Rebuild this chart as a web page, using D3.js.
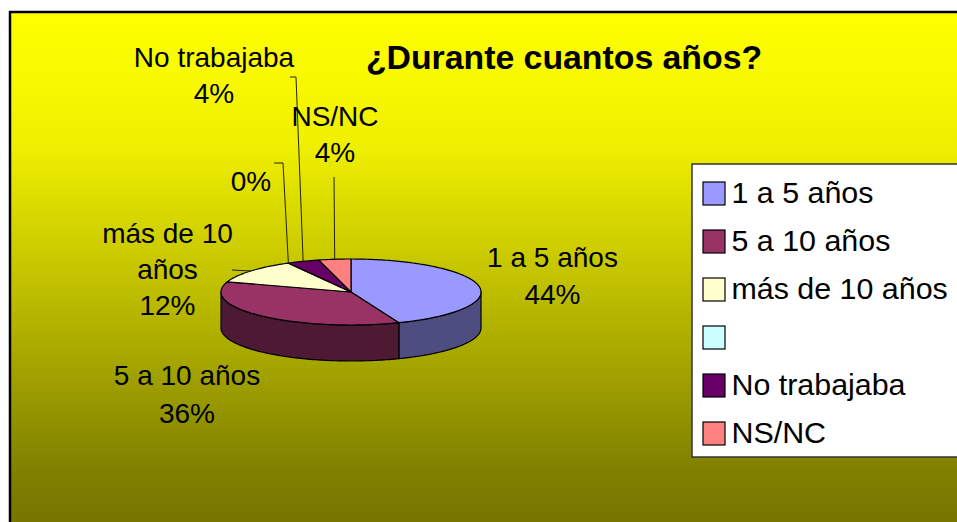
<!DOCTYPE html>
<html>
<head>
<meta charset="utf-8">
<script src="https://cdn.jsdelivr.net/npm/d3@7"></script>
<style>
  html, body { margin: 0; padding: 0; background: #fff; }
  svg { display: block; }
  text { font-family: "Liberation Sans", Arial, sans-serif; fill: #000; }
</style>
</head>
<body>
<div id="chart"></div>
<script>
const title      = '¿Durante cuantos años?';
const categories = ['1 a 5 años', '5 a 10 años', 'más de 10 años', '', 'No trabajaba', 'NS/NC'];
const values     = [44, 36, 12, 0, 4, 4];
const topColors  = ['#9999ff', '#993366', '#ffffcc', '#ccffff', '#660066', '#ff8080'];
const sideColors = ['#4d4d80', '#4d1933', '#808066', '#668080', '#330033', '#804040'];
// label text as it wraps in the picture
const labelLines = [['1 a 5 años'], ['5 a 10 años'], ['más de 10', 'años'], [], ['No trabajaba'], ['NS/NC']];

const width  = 957;
const height = 522;

// Pie geometry
const cx = 351, cy = 292, rx = 130, ry = 33, depth = 36;

// Where the labels sit: centre x and first baseline, then the leader elbow (if any)
const labelPlace = [
  {x: 552.5, y: 267, lh: 37},
  {x: 187, y: 385, lh: 38},
  {x: 167.5, y: 243, lh: 36, leader: [[232, 270]]},
  {x: 251, y: 191, lh: 36, leader: [[274, 163], [283, 163]]},
  {x: 214, y: 67,  lh: 36, leader: [[290, 77], [296, 77]]},
  {x: 335, y: 126, lh: 36, leader: [[334, 177]]}
];

const svg = d3.select('#chart')
  .append('svg')
  .attr('width', width)
  .attr('height', height);

// Background gradient
const gradient = svg.append('defs')
  .append('linearGradient')
  .attr('id', 'bg')
  .attr('gradientUnits', 'userSpaceOnUse')
  .attr('x1', 0).attr('x2', 0)
  .attr('y1', 13).attr('y2', 522);

[[0, '#ffff00'], [0.17, '#f6f600'], [0.27, '#eeee00'], [0.9, '#808000'], [1, '#767600']].forEach(s => {
  gradient.append('stop').attr('offset', s[0]).attr('stop-color', s[1]);
});

svg.append('rect')
  .attr('x', 10)
  .attr('y', 12)
  .attr('width', width + 20)
  .attr('height', height + 20)
  .style('fill', 'url(#bg)')
  .style('stroke', '#000')
  .style('stroke-width', 2.5);

svg.append('text')
  .attr('x', 564)
  .attr('y', 69)
  .style('text-anchor', 'middle')
  .style('font-size', '33.8px')
  .style('font-weight', 'bold')
  .text(title);

// Pie layout, clockwise from 12 o'clock, data order kept
const slices = d3.pie().sort(null)(values);

// Angle on the flattened circle to screen position
const project = a => [cx + rx * Math.sin(a), cy - ry * Math.cos(a)];

const edgeLine = d3.line();

function arcPoints(a0, a1) {
  const n = Math.max(2, Math.ceil((a1 - a0) / 0.02));
  return d3.range(n + 1).map(i => project(a0 + (a1 - a0) * i / n));
}

// Side wall: only the front half of the rim is visible
const layerPie = svg.append('g');

slices.forEach((s, i) => {
  const a0 = Math.max(s.startAngle, Math.PI / 2);
  const a1 = Math.min(s.endAngle, 3 * Math.PI / 2);
  if (a1 <= a0) return;
  const rim = arcPoints(a0, a1);
  const lower = rim.map(p => [p[0], p[1] + depth]).reverse();
  layerPie.append('path')
    .attr('d', edgeLine(rim.concat(lower)) + 'Z')
    .style('fill', sideColors[i])
    .style('stroke', '#000')
    .style('stroke-width', 1.2)
    .style('stroke-linejoin', 'round');
});

// Top face
slices.forEach((s, i) => {
  if (s.value === 0) return;
  layerPie.append('path')
    .attr('d', edgeLine([[cx, cy]].concat(arcPoints(s.startAngle, s.endAngle))) + 'Z')
    .style('fill', topColors[i])
    .style('stroke', '#000')
    .style('stroke-width', 1.2)
    .style('stroke-linejoin', 'round');
});

// Leader lines and data labels
const layerLabels = svg.append('g');

slices.forEach((s, i) => {
  const place = labelPlace[i];
  if (place.leader) {
    const end = project((s.startAngle + s.endAngle) / 2);
    layerLabels.append('path')
      .attr('d', edgeLine(place.leader.concat([end])))
      .style('fill', 'none')
      .style('stroke', '#222200')
      .style('stroke-width', 1);
  }
  labelLines[i].concat([s.value + '%']).forEach((line, j) => {
    layerLabels.append('text')
      .attr('x', place.x)
      .attr('y', place.y + j * place.lh)
      .style('text-anchor', 'middle')
      .style('font-size', '28px')
      .text(line);
  });
});

// Legend
const legendY = d3.scaleBand()
  .domain(d3.range(categories.length))
  .range([170, 458]);

const layerLegend = svg.append('g');

layerLegend.append('rect')
  .attr('x', 692)
  .attr('y', 164)
  .attr('width', 300)
  .attr('height', 293)
  .style('fill', '#fff')
  .style('stroke', '#333')
  .style('stroke-width', 1.5);

categories.forEach((c, i) => {
  const y = legendY(i) + legendY.bandwidth() / 2;
  layerLegend.append('rect')
    .attr('x', 703)
    .attr('y', y - 12)
    .attr('width', 22)
    .attr('height', 23)
    .style('fill', topColors[i])
    .style('stroke', '#000')
    .style('stroke-width', 1.2);
  layerLegend.append('text')
    .attr('x', 731.5)
    .attr('y', y + 9)
    .style('font-size', '30.4px')
    .text(c);
});
</script>
</body>
</html>
